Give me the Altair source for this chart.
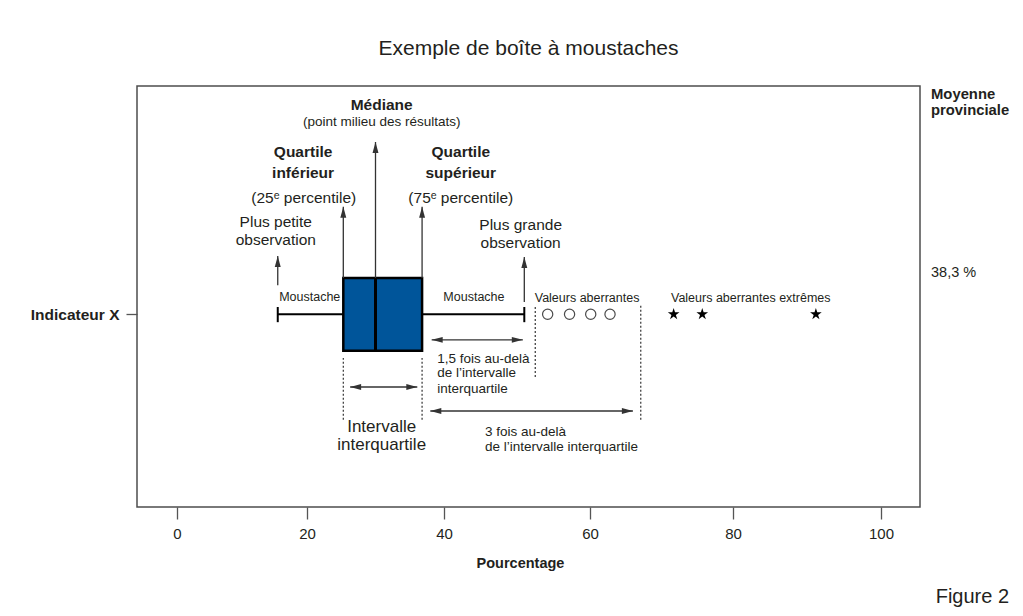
import math
import altair as alt
import pandas as pd

FONT = "Liberation Sans, Arial, sans-serif"
INK = "#231f20"
BOX_BLUE = "#00559a"

# ---------------- data ----------------
axis_ticks = [0, 20, 40, 60, 80, 100]
row_label = "Indicateur X"
row_y = 45.8

box_stats = ["min", "q1", "median", "q3", "max"]
box_values = [15.5, 25.3, 30.0, 36.8, 51.0]
box_bottom, box_top = 37.1, 54.4
cap_low, cap_high = 43.9, 47.5
outliers = [54.2, 57.2, 60.1, 62.8]
extremes = [71.7, 75.7, 91.2]

# arrows pointing at the five statistics
arrow_base = [52.7, box_top, box_top, box_top, 48.7]
arrow_tip = [59.6, 71.3, 86.7, 71.3, 59.4]

# double-headed span arrows
span_start = [26.3, 38.2, 38.0]
span_end = [36.1, 50.8, 66.0]
span_y = [28.5, 39.7, 22.8]

# dotted guide lines (q1, q3, 1.5 IQR fence, 3 IQR fence)
guide_x = [25.3, 36.8, 52.5, 67.1]
guide_y1 = [20.7, 20.7, 30.9, 20.7]
guide_y2 = [35.4, 35.4, 48.0, 48.0]

# annotation texts
head_text = ["Médiane", "Quartile", "inférieur", "Quartile", "supérieur"]
head_x = [30.9, 19.4, 19.4, 42.3, 42.3]
head_y = [95.5, 84.3, 79.3, 84.3, 79.3]

note_text = ["(point milieu des résultats)"]
note_x = [30.9]
note_y = [91.4]

mid_text = ["(25ᵉ percentile)", "(75ᵉ percentile)", "Plus petite", "observation",
            "Plus grande", "observation"]
mid_x = [19.5, 42.3, 15.2, 15.2, 50.5, 50.5]
mid_y = [73.4, 73.4, 67.7, 63.4, 67.0, 62.7]

small_text = ["Moustache", "Moustache", "Valeurs aberrantes", "Valeurs aberrantes extrêmes"]
small_x = [20.4, 44.1, 59.6, 82.4]
small_y = [49.9, 49.9, 49.6, 49.6]

span_text = ["1,5 fois au-delà", "de l’intervalle", "interquartile",
             "3 fois au-delà", "de l’intervalle interquartile"]
span_text_x = [39.0, 39.0, 39.0, 45.6, 45.6]
span_text_y = [35.2, 31.8, 28.0, 17.8, 14.3]

iqr_text = ["Intervalle", "interquartile"]
iqr_x = [30.9, 30.9]
iqr_y = [19.0, 14.7]

side_head = ["Moyenne", "provinciale"]
side_x = [106.8, 106.8]
side_y = [97.9, 94.1]
side_value = ["38,3 %"]
side_value_y = [55.6]

fig_label = ["Figure 2"]
fig_x = [117.4]
fig_y = [-21.4]

# ---------------- scales / axes ----------------
x_scale = alt.Scale(domain=[-6.15, 0, 20, 40, 60, 80, 100, 105.3],
                    range=[0, 40, 170, 307, 453, 596, 744, 783],
                    nice=False, zero=False)
y_scale = alt.Scale(domain=[0, 100], nice=False, zero=False)

x_axis = alt.Axis(values=axis_ticks, title="Pourcentage", grid=False, domain=False,
                  tickSize=12, tickColor="#555555", tickWidth=1.3,
                  labelFont=FONT, labelFontSize=15, labelColor=INK, labelPadding=7,
                  titleFont=FONT, titleFontSize=14.5, titleFontWeight="bold",
                  titleColor=INK, titlePadding=15, titleX=383)
y_axis = alt.Axis(values=[row_y], labelExpr=f"'{row_label}'", title=None, grid=False,
                  domain=False, tickSize=11, tickColor="#555555", tickWidth=1.3,
                  labelFont=FONT, labelFontSize=15.5, labelFontWeight="bold",
                  labelColor=INK, labelPadding=7)


def X(field):
    return alt.X(f"{field}:Q", scale=x_scale, axis=x_axis)


def Y(field):
    return alt.Y(f"{field}:Q", scale=y_scale, axis=y_axis)


# ---------------- tables ----------------
stats = dict(zip(box_stats, box_values))
box_df = pd.DataFrame({"x1": [stats["q1"]], "x2": [stats["q3"]],
                       "y1": [box_bottom], "y2": [box_top]})
whisk_df = pd.DataFrame({"x1": [stats["min"], stats["q3"]],
                         "x2": [stats["q1"], stats["max"]],
                         "y": [row_y, row_y]})
cap_df = pd.DataFrame({"x": [stats["min"], stats["max"]],
                       "y1": [cap_low, cap_low], "y2": [cap_high, cap_high]})
med_df = pd.DataFrame({"x": [stats["median"]], "y1": [box_bottom], "y2": [box_top]})
out_df = pd.DataFrame({"x": outliers, "y": [row_y] * len(outliers)})
ext_df = pd.DataFrame({"x": extremes, "y": [row_y] * len(extremes)})
arrow_df = pd.DataFrame({"x": box_values, "y1": arrow_base, "y2": arrow_tip})
span_df = pd.DataFrame({"x1": span_start, "x2": span_end, "y": span_y})
guide_df = pd.DataFrame({"x": guide_x, "y1": guide_y1, "y2": guide_y2})

# symbol shapes (tip at the origin)
UP = "M0,0 L-0.27,1 L0.27,1 Z"
RIGHT = "M0,0 L-1,-0.27 L-1,0.27 Z"
LEFT = "M0,0 L1,-0.27 L1,0.27 Z"
star_pts = []
for i in range(10):
    r = 1.0 if i % 2 == 0 else 0.38
    a = -math.pi / 2 + i * math.pi / 5
    star_pts.append(f"{r * math.cos(a):.3f},{r * math.sin(a):.3f}")
STAR = "M" + " L".join(star_pts) + " Z"

layers = []

layers.append(alt.Chart(box_df).mark_rect(fill=BOX_BLUE, stroke="#000000", strokeWidth=2.5)
              .encode(x=X("x1"), x2="x2", y=Y("y1"), y2="y2"))
layers.append(alt.Chart(whisk_df).mark_rule(color="#000000", strokeWidth=2)
              .encode(x=X("x1"), x2="x2", y=Y("y")))
layers.append(alt.Chart(cap_df).mark_rule(color="#000000", strokeWidth=2)
              .encode(x=X("x"), y=Y("y1"), y2="y2"))
layers.append(alt.Chart(med_df).mark_rule(color="#000000", strokeWidth=3)
              .encode(x=X("x"), y=Y("y1"), y2="y2"))
layers.append(alt.Chart(out_df).mark_point(shape="circle", filled=False, size=105,
                                           color="#000000", strokeWidth=1.2)
              .encode(x=X("x"), y=Y("y")))
layers.append(alt.Chart(ext_df).mark_point(shape=STAR, filled=True, size=150,
                                           color="#000000", opacity=1)
              .encode(x=X("x"), y=Y("y")))
layers.append(alt.Chart(guide_df).mark_rule(color="#333333", strokeWidth=1.2, strokeDash=[2, 2])
              .encode(x=X("x"), y=Y("y1"), y2="y2"))
layers.append(alt.Chart(arrow_df).mark_rule(color="#333333", strokeWidth=1.3)
              .encode(x=X("x"), y=Y("y1"), y2="y2"))
layers.append(alt.Chart(arrow_df).mark_point(shape=UP, filled=True, size=484,
                                             color="#333333", opacity=1)
              .encode(x=X("x"), y=Y("y2")))
layers.append(alt.Chart(span_df).mark_rule(color="#333333", strokeWidth=1.3)
              .encode(x=X("x1"), x2="x2", y=Y("y")))
layers.append(alt.Chart(span_df).mark_point(shape=LEFT, filled=True, size=484,
                                            color="#333333", opacity=1)
              .encode(x=X("x1"), y=Y("y")))
layers.append(alt.Chart(span_df).mark_point(shape=RIGHT, filled=True, size=484,
                                            color="#333333", opacity=1)
              .encode(x=X("x2"), y=Y("y")))


def text_layer(texts, xs, ys, size, weight="normal", align="center"):
    df = pd.DataFrame({"t": texts, "x": xs, "y": ys})
    return alt.Chart(df).mark_text(font=FONT, fontSize=size, fontWeight=weight,
                                   align=align, baseline="middle", color=INK
                                   ).encode(x=X("x"), y=Y("y"), text="t:N")


layers += [
    text_layer(head_text, head_x, head_y, 15.5, "bold"),
    text_layer(note_text, note_x, note_y, 13.5),
    text_layer(mid_text, mid_x, mid_y, 15.5),
    text_layer(small_text, small_x, small_y, 12.5),
    text_layer(span_text, span_text_x, span_text_y, 13.5, align="left"),
    text_layer(iqr_text, iqr_x, iqr_y, 17),
    text_layer(side_head, side_x, side_y, 14.8, "bold", align="left"),
    text_layer(side_value, [side_x[0]], side_value_y, 14.5, align="left"),
    text_layer(fig_label, fig_x, fig_y, 20, align="right"),
]

chart = alt.layer(*layers).properties(
    width=783, height=421,
    title=alt.TitleParams("Exemple de boîte à moustaches", font=FONT, fontSize=21,
                          fontWeight="normal", color=INK, anchor="middle", offset=27),
    autosize=alt.AutoSizeParams(type="none"),
    padding={"left": 129, "top": 78, "right": 95, "bottom": 101},
    background="#ffffff",
).configure_view(stroke="#4d4d4d", strokeWidth=1.5)

chart.save("out.html", embed_options={"renderer": "svg", "actions": False})
